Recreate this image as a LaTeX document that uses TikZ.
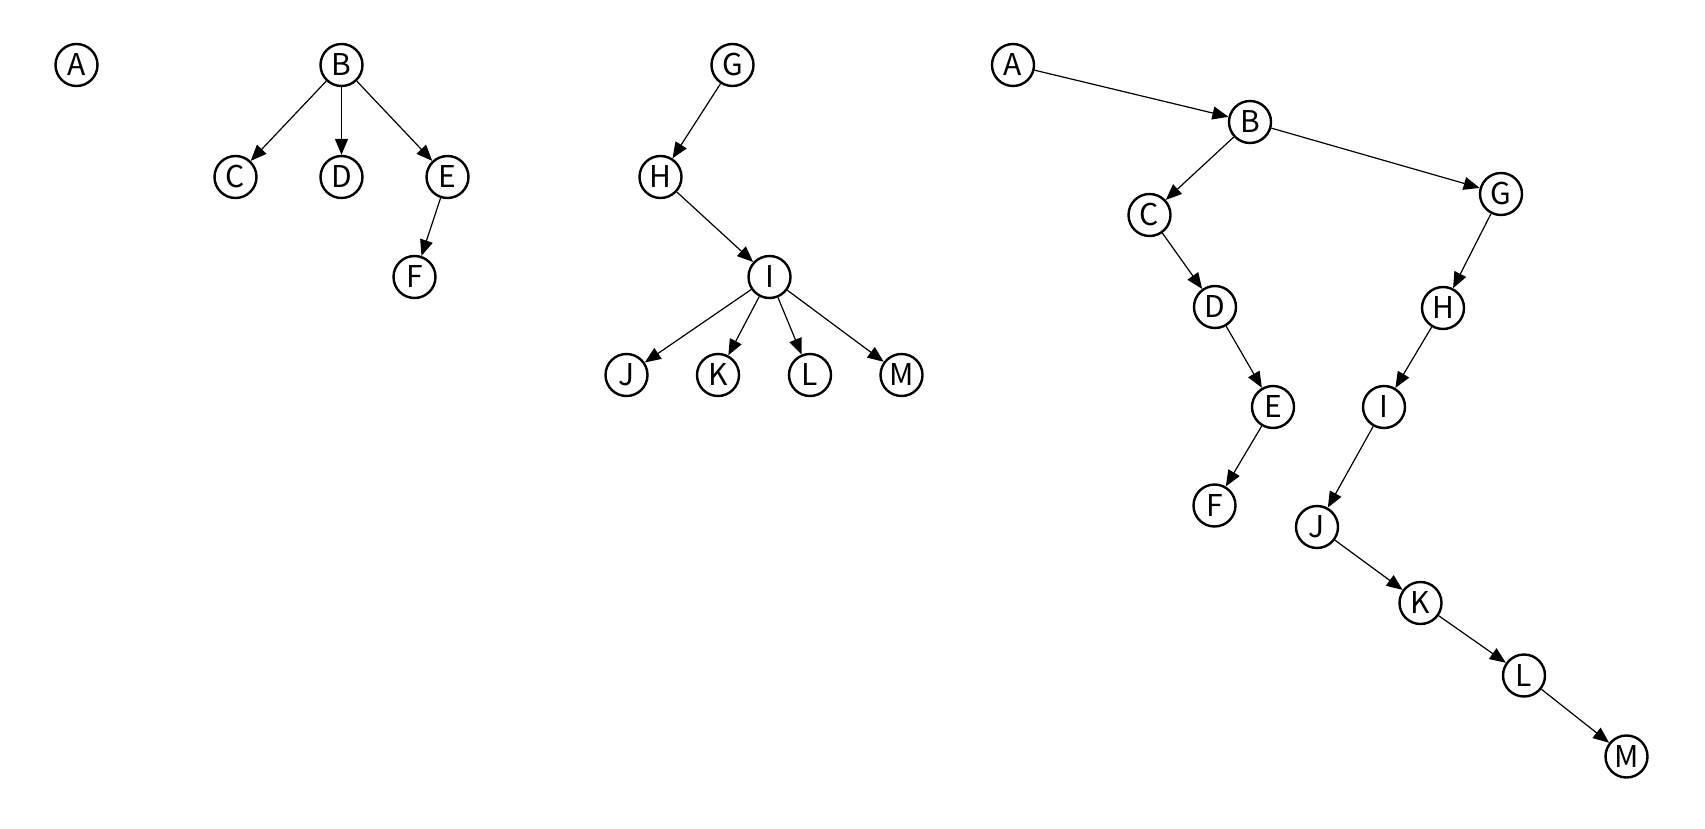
\documentclass[tikz,border=0pt]{standalone}
\usepackage{fontspec}
\setmainfont{Noto Sans CJK SC}
\usetikzlibrary{arrows.meta}
\begin{document}
\begin{tikzpicture}[x=1pt,y=-1pt,
  vtx/.style={circle,draw,line width=2.4pt,minimum size=42pt,inner sep=0pt,font=\fontsize{30}{30}\selectfont},
  edge/.style={line width=1.2pt,-{Triangle[length=16pt,width=13pt]}}]
\useasboundingbox (0,0) rectangle (1705,829);
% forest 1
\node[vtx] (a1) at (76.5,65) {A};
\node[vtx] (b1) at (341.5,65) {B};
\node[vtx] (c1) at (235.5,177) {C};
\node[vtx] (d1) at (341.5,177) {D};
\node[vtx] (e1) at (447.5,177) {E};
\node[vtx] (f1) at (414.5,277) {F};
\draw[edge] (b1) -- (c1);
\draw[edge] (b1) -- (d1);
\draw[edge] (b1) -- (e1);
\draw[edge] (e1) -- (f1);
% tree 2
\node[vtx] (g1) at (732.5,65) {G};
\node[vtx] (h1) at (660.5,177) {H};
\node[vtx] (i1) at (769.5,277) {I};
\node[vtx] (j1) at (626.5,375) {J};
\node[vtx] (k1) at (718,375) {K};
\node[vtx] (l1) at (810,375) {L};
\node[vtx] (m1) at (901.5,375) {M};
\draw[edge] (g1) -- (h1);
\draw[edge] (h1) -- (i1);
\draw[edge] (i1) -- (j1);
\draw[edge] (i1) -- (k1);
\draw[edge] (i1) -- (l1);
\draw[edge] (i1) -- (m1);
% binary tree
\node[vtx] (a2) at (1013,65) {A};
\node[vtx] (b2) at (1250,122) {B};
\node[vtx] (c2) at (1149.5,215) {C};
\node[vtx] (d2) at (1215,307) {D};
\node[vtx] (e2) at (1273,407) {E};
\node[vtx] (f2) at (1214.5,505.5) {F};
\node[vtx] (g2) at (1501,194) {G};
\node[vtx] (h2) at (1443,308) {H};
\node[vtx] (i2) at (1384,407) {I};
\node[vtx] (j2) at (1317,527) {J};
\node[vtx] (k2) at (1420.5,603) {K};
\node[vtx] (l2) at (1524,675.5) {L};
\node[vtx] (m2) at (1626.5,756.5) {M};
\draw[edge] (a2) -- (b2);
\draw[edge] (b2) -- (c2);
\draw[edge] (c2) -- (d2);
\draw[edge] (d2) -- (e2);
\draw[edge] (e2) -- (f2);
\draw[edge] (b2) -- (g2);
\draw[edge] (g2) -- (h2);
\draw[edge] (h2) -- (i2);
\draw[edge] (i2) -- (j2);
\draw[edge] (j2) -- (k2);
\draw[edge] (k2) -- (l2);
\draw[edge] (l2) -- (m2);
\end{tikzpicture}
\end{document}
